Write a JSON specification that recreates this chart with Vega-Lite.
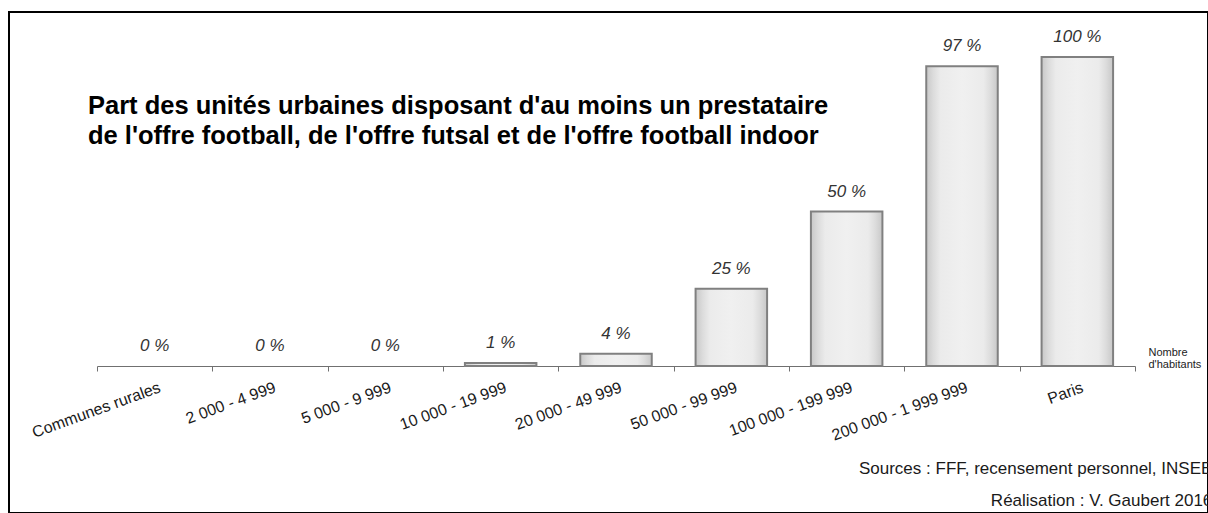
{
  "$schema": "https://vega.github.io/schema/vega-lite/v6.json",
  "width": 1199,
  "height": 501,
  "autosize": {"type": "none"},
  "padding": {"left": 9, "top": 12, "right": 0, "bottom": 0},
  "background": "white",
  "config": {
    "view": {"stroke": "#000000", "strokeWidth": 2},
    "font": "Liberation Sans"
  },
  "title": {
    "text": ["Part des unités urbaines disposant d'au moins un prestataire", "de l'offre football, de l'offre futsal et de l'offre football indoor"],
    "anchor": "start",
    "frame": "group",
    "align": "left",
    "baseline": "top",
    "dx": 79,
    "offset": -137,
    "fontSize": 25.5,
    "fontWeight": "bold",
    "lineHeight": 30,
    "color": "#000000",
    "font": "Liberation Sans"
  },
  "data": {
    "values": [
      {"classe": "Communes rurales", "part": 0, "label": "0 %"},
      {"classe": "2 000 - 4 999", "part": 0, "label": "0 %"},
      {"classe": "5 000 - 9 999", "part": 0, "label": "0 %"},
      {"classe": "10 000 - 19 999", "part": 1, "label": "1 %"},
      {"classe": "20 000 - 49 999", "part": 4, "label": "4 %"},
      {"classe": "50 000 - 99 999", "part": 25, "label": "25 %"},
      {"classe": "100 000 - 199 999", "part": 50, "label": "50 %"},
      {"classe": "200 000 - 1 999 999", "part": 97, "label": "97 %"},
      {"classe": "Paris", "part": 100, "label": "100 %"}
    ]
  },
  "encoding": {
    "x": {
      "field": "classe",
      "type": "nominal",
      "sort": null,
      "scale": {"range": [88, 1126], "paddingInner": 0, "paddingOuter": 0},
      "axis": {
        "title": ["Nombre", "d'habitants"],
        "titleX": 1139,
        "titleY": -11,
        "titleAlign": "left",
        "titleBaseline": "alphabetic",
        "titleFontSize": 11,
        "titleFontWeight": "normal",
        "titleLineHeight": 12,
        "titleColor": "#222222",
        "titleFont": "Liberation Sans",
        "labelAngle": -20,
        "labelAlign": "right",
        "labelBaseline": "top",
        "labelFontSize": 16,
        "labelColor": "#1a1a1a",
        "labelFont": "Liberation Sans",
        "labelPadding": 8,
        "labelOffset": 2,
        "labelLimit": 0,
        "tickSize": 5,
        "tickColor": "#707070",
        "domainColor": "#707070",
        "tickBand": "extent",
        "offset": -147,
        "grid": false
      }
    }
  },
  "layer": [
    {
      "mark": {
        "type": "bar",
        "width": {"band": 0.62},
        "color": {
          "gradient": "linear",
          "x1": 0, "y1": 0, "x2": 1, "y2": 0,
          "stops": [
            {"offset": 0, "color": "#c8c8c8"},
            {"offset": 0.1, "color": "#dcdcdc"},
            {"offset": 0.2, "color": "#ebebeb"},
            {"offset": 0.5, "color": "#f0f0f0"},
            {"offset": 0.8, "color": "#ebebeb"},
            {"offset": 0.9, "color": "#dcdcdc"},
            {"offset": 1, "color": "#c8c8c8"}
          ]
        },
        "stroke": "#808080",
        "strokeWidth": 2
      },
      "encoding": {
        "y": {
          "field": "part",
          "type": "quantitative",
          "scale": {"domain": [0, 100], "range": [354, 45]},
          "axis": null
        },
        "strokeOpacity": {"condition": {"test": "datum.part == 0", "value": 0}, "value": 1}
      }
    },
    {
      "mark": {"type": "text", "fontStyle": "italic", "fontSize": 17, "dy": -15, "baseline": "alphabetic", "color": "#333333", "font": "Liberation Sans"},
      "encoding": {
        "y": {"field": "part", "type": "quantitative"},
        "text": {"field": "label"}
      }
    },
    {
      "data": {"values": [{}]},
      "mark": {"type": "text", "align": "right", "baseline": "alphabetic", "fontSize": 17, "lineHeight": 32, "dx": 135, "dy": 108, "color": "#1a1a1a", "font": "Liberation Sans"},
      "encoding": {
        "x": {"datum": "Paris", "type": "nominal"},
        "y": {"datum": 0, "type": "quantitative"},
        "text": {"value": ["Sources : FFF, recensement personnel, INSEE", "Réalisation : V. Gaubert 2016"]}
      }
    }
  ]
}
